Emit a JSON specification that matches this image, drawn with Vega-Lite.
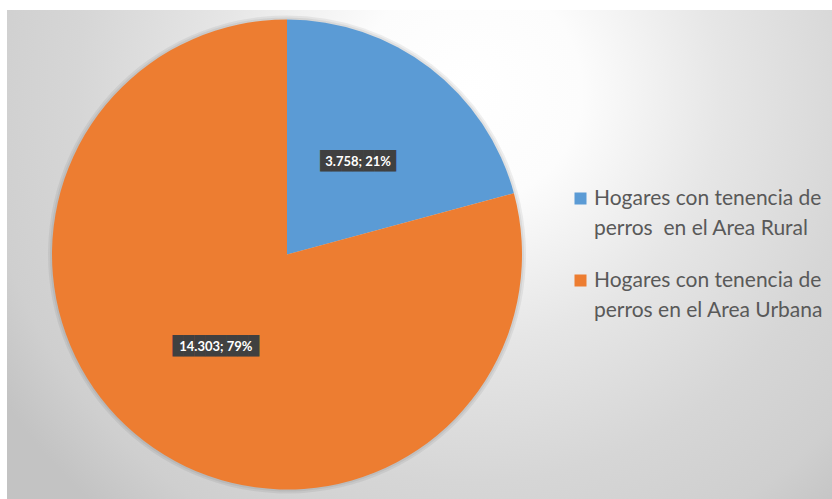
{
  "$schema": "https://vega.github.io/schema/vega-lite/v6.json",
  "padding": {"left": 7, "top": 10, "right": 0, "bottom": 0},
  "background": "white",
  "spacing": 0,
  "datasets": {
    "hogares": [
      {"categoria": "Hogares con tenencia de perros  en el Area Rural", "hogares": 3758, "etiqueta": "3.758; 21%"},
      {"categoria": "Hogares con tenencia de perros en el Area Urbana", "hogares": 14303, "etiqueta": "14.303; 79%"}
    ]
  },
  "hconcat": [
    {
      "width": 560,
      "height": 489,
      "view": {
        "stroke": null,
        "fill": {
          "gradient": "radial",
          "x1": 0.8268, "y1": 0.2063, "r1": 0,
          "x2": 0.8268, "y2": 0.2063, "r2": 1.0,
          "stops": [
            {"offset": 0, "color": "#ffffff"},
            {"offset": 0.2, "color": "#fcfcfc"},
            {"offset": 0.45, "color": "#e6e6e6"},
            {"offset": 0.7, "color": "#d6d6d6"},
            {"offset": 0.88, "color": "#cfcfcf"},
            {"offset": 1, "color": "#c3c3c3"}
          ]
        }
      },
      "data": {"name": "hogares"},
      "encoding": {
        "theta": {"field": "hogares", "type": "quantitative", "stack": true},
        "order": {"field": "hogares", "type": "quantitative", "sort": "ascending"}
      },
      "layer": [
        {
          "mark": {"type": "arc", "outerRadius": 239, "opacity": 0.06},
          "encoding": {"color": {"value": "#000000"}}
        },
        {
          "mark": {"type": "arc", "outerRadius": 237, "opacity": 0.06},
          "encoding": {"color": {"value": "#000000"}}
        },
        {
          "mark": {"type": "arc", "outerRadius": 235},
          "encoding": {
            "color": {
              "field": "categoria",
              "type": "nominal",
              "scale": {
                "domain": ["Hogares con tenencia de perros  en el Area Rural", "Hogares con tenencia de perros en el Area Urbana"],
                "range": ["#5B9BD5", "#ED7D31"]
              },
              "legend": null
            }
          }
        },
        {
          "mark": {
            "type": "text",
            "radius": 117,
            "font": "DejaVu Sans Mono",
            "fontSize": 18,
            "text": {"expr": "pad('', length(datum.etiqueta) - 3, '█', 'right')"}
          },
          "encoding": {"color": {"value": "#404040"}}
        },
        {
          "mark": {"type": "text", "radius": 117, "font": "Lato", "fontSize": 13, "fontWeight": "bold"},
          "encoding": {
            "text": {"field": "etiqueta", "type": "nominal"},
            "color": {"value": "#ffffff"}
          }
        }
      ]
    },
    {
      "width": 265,
      "height": 489,
      "view": {
        "stroke": null,
        "fill": {
          "gradient": "radial",
          "x1": 0.0307, "y1": 0.1636, "r1": 0,
          "x2": 0.0307, "y2": 0.1636, "r2": 1.1452,
          "stops": [
            {"offset": 0, "color": "#ffffff"},
            {"offset": 0.2, "color": "#fcfcfc"},
            {"offset": 0.45, "color": "#e6e6e6"},
            {"offset": 0.7, "color": "#d6d6d6"},
            {"offset": 0.88, "color": "#cfcfcf"},
            {"offset": 1, "color": "#c3c3c3"}
          ]
        }
      },
      "data": {"name": "hogares"},
      "mark": {"type": "square", "opacity": 0, "filled": true},
      "encoding": {
        "color": {
          "field": "categoria",
          "type": "nominal",
          "scale": {
            "domain": ["Hogares con tenencia de perros  en el Area Rural", "Hogares con tenencia de perros en el Area Urbana"],
            "range": ["#5B9BD5", "#ED7D31"]
          },
          "legend": {
            "orient": "none",
            "legendX": 3,
            "legendY": 178,
            "title": null,
            "symbolType": "square",
            "symbolSize": 144,
            "symbolOpacity": 1,
            "symbolStrokeWidth": 0,
            "labelFont": "Lato",
            "labelFontSize": 21,
            "labelColor": "#595959",
            "labelLimit": 300,
            "labelOffset": 3,
            "labelBaseline": "middle",
            "rowPadding": 30,
            "labelExpr": "[slice(datum.label, 0, 23), replace(slice(datum.label, 24), '  ', ' \u00a0')]"
          }
        }
      }
    }
  ],
  "resolve": {"scale": {"color": "shared"}, "legend": {"color": "independent"}},
  "config": {
    "view": {"stroke": null},
    "style": {"guide-label": {"lineHeight": 30}}
  }
}
